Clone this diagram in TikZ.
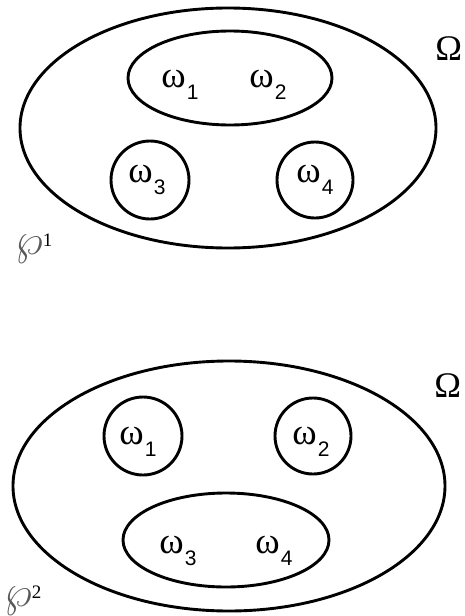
\RequirePackage{fix-cm}
\documentclass[tikz,border=0pt]{standalone}
\usepackage{fontspec}
\setmainfont{Liberation Serif}
\newfontfamily\subfont{Liberation Sans}
\newcommand{\om}[1]{{\fontsize{37}{37}\selectfont ω}\kern1pt\raisebox{-0.36em}{\fontsize{21}{21}\subfont #1}}
\newcommand{\pset}[1]{{\fontsize{44}{44}\selectfont\color{black!65}$\wp$}\kern0pt\raisebox{0.2em}{\fontsize{19}{19}\selectfont #1}}

\begin{document}
\begin{tikzpicture}[x=1pt, y=-1pt, line width=2.9pt, every node/.style={inner sep=0pt, anchor=base west, font=\fontsize{36}{36}\selectfont}]
    \useasboundingbox (0,0) rectangle (465,616);

        \draw (228,128) ellipse [x radius=208pt, y radius=120pt];
        \draw (230,78) ellipse [x radius=102pt, y radius=47pt];
        \draw (150,180) circle [radius=39pt];
        \draw (315,180) circle [radius=38pt];

        \node (topw1) at (160,87) {\om{1}};
        \node (topw2) at (248,87) {\om{2}};
        \node (topw3) at (127,182) {\om{3}};
        \node (topw4) at (295,182) {\om{4}};
        \node (topOmega) at (434,60) {Ω};
        \node (topP) at (14,254) {\pset{1}};


        \draw (229,486) ellipse [x radius=216pt, y radius=125pt];
        \draw (143,436) circle [radius=39pt];
        \draw (313,436) circle [radius=38pt];
        \draw (226,540) ellipse [x radius=103pt, y radius=47pt];

        \node (botw1) at (118,444) {\om{1}};
        \node (botw2) at (291,444) {\om{2}};
        \node (botw3) at (158,553) {\om{3}};
        \node (botw4) at (254,553) {\om{4}};
        \node (botOmega) at (433,397) {Ω};
        \node (botP) at (3,606) {\pset{2}};
    \end{tikzpicture}
\end{document}
